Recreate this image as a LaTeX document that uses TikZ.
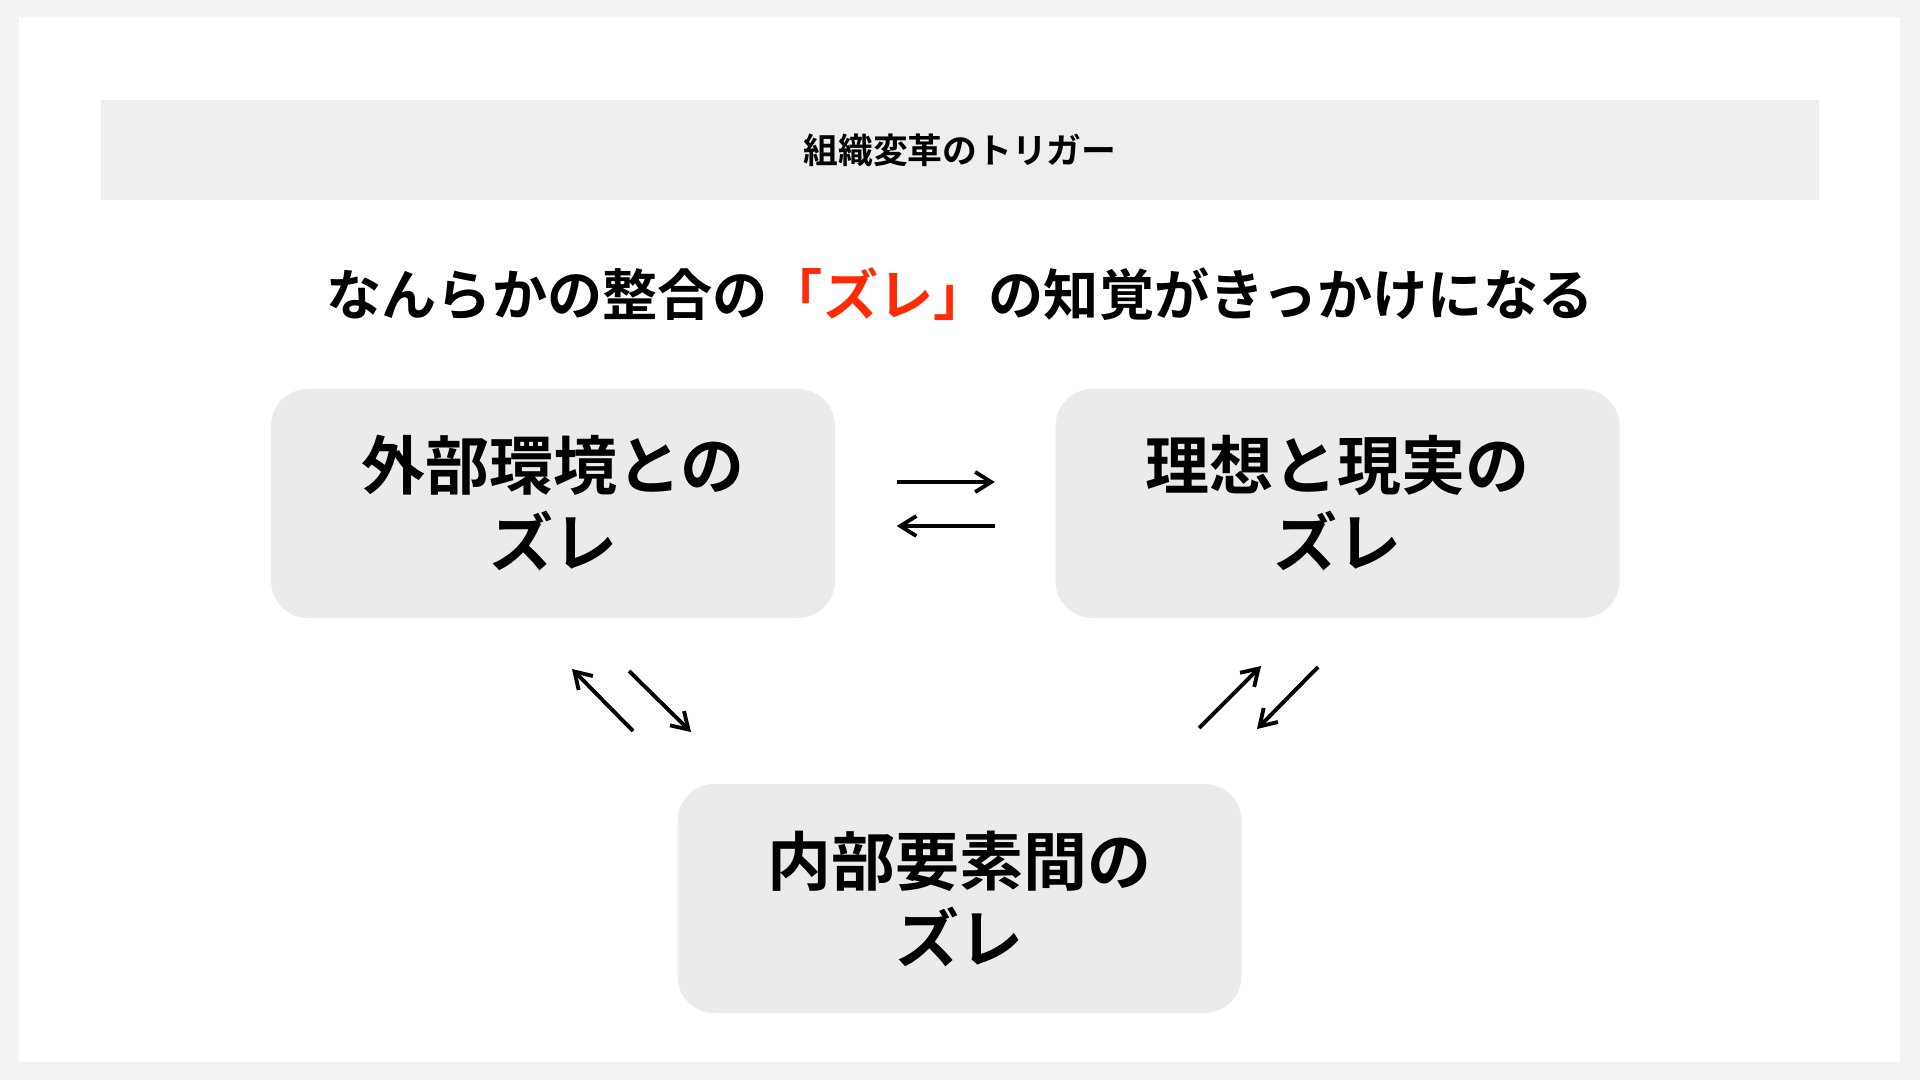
\documentclass[tikz,border=0pt]{standalone}
\usepackage{fontspec}
\setmainfont{Noto Sans CJK JP}[BoldFont={Noto Sans CJK JP Bold}]
\usepackage{xcolor}
\usetikzlibrary{positioning, arrows.meta}

\definecolor{pagebg}{HTML}{F3F3F1}
\definecolor{headgray}{HTML}{EEEEEE}
\definecolor{boxgray}{HTML}{EBEBEB}
\definecolor{accent}{HTML}{FF2A06}

\begin{document}
\begin{tikzpicture}[
      box/.style={fill=boxgray, rounded corners=3.7mm, minimum width=56.4mm, minimum height=22.9mm,
        align=center, inner sep=0pt, font=\fontsize{18.2}{21.9}\selectfont\bfseries},
      arr/.style={-{Straight Barb[length=1.6mm, width=2.0mm]}, line width=1.1pt, black}
    ]
    % page and panel
    \fill[pagebg] (0,0) rectangle (19.2,-10.8);
    \fill[white] (0.19,-0.17) rectangle (19.0,-10.62);
    \useasboundingbox (0,0) rectangle (19.2,-10.8);

    % header band and title
    \node[fill=headgray, minimum width=171.8mm, minimum height=10mm, inner sep=0pt,
      font=\fontsize{9.9}{12}\selectfont\bfseries] (hdr) at (9.6,-1.5) {組織変革のトリガー};
    \node[font=\fontsize{15.7}{18}\selectfont\bfseries] (ttl) at (9.6,-2.94)
      {なんらかの整合の\textcolor{accent}{「ズレ」}の知覚がきっかけになる};

    % three boxes
    \node[box] (ext) at (5.53,-5.035) {外部環境との\\ズレ};
    \node[box] (ideal) at (13.375,-5.035) {理想と現実の\\ズレ};
    \node[box] (inner) at (9.595,-8.985) {内部要素間の\\ズレ};

    % arrows between boxes
    \draw[arr, shorten <=6.1mm, shorten >=6.0mm] ([yshift=2.15mm]ext.east) -- ([yshift=2.15mm]ideal.west);
    \draw[arr, shorten <=6.0mm, shorten >=6.1mm] ([yshift=-2.25mm]ideal.west) -- ([yshift=-2.25mm]ext.east);

    \coordinate (l1a) at (6.33,-7.31);
    \coordinate (l1b) at (5.72,-6.69);
    \coordinate (l2a) at (6.29,-6.71);
    \coordinate (l2b) at (6.91,-7.32);
    \coordinate (r1a) at (11.99,-7.28);
    \coordinate (r1b) at (12.61,-6.66);
    \coordinate (r2a) at (13.18,-6.67);
    \coordinate (r2b) at (12.57,-7.29);
    \draw[arr] (l1a) -- (l1b);
    \draw[arr] (l2a) -- (l2b);
    \draw[arr] (r1a) -- (r1b);
    \draw[arr] (r2a) -- (r2b);
  \end{tikzpicture}
\end{document}
